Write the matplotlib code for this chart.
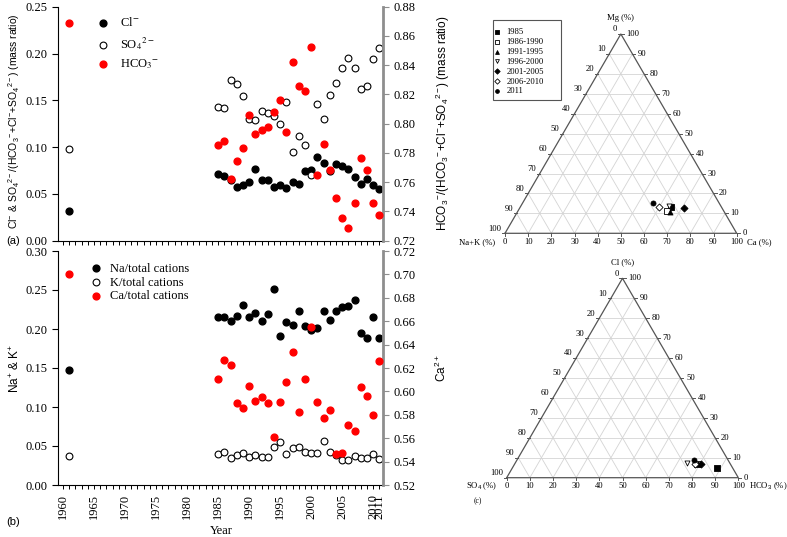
import numpy as np
import matplotlib
matplotlib.use("Agg")
import matplotlib.pyplot as plt
from matplotlib.patches import Rectangle
from matplotlib.font_manager import FontProperties

plt.rcParams['font.family'] = ['Liberation Serif', 'DejaVu Serif']
plt.rcParams['mathtext.fontset'] = 'custom'
plt.rcParams['mathtext.rm'] = 'Liberation Sans'
plt.rcParams['mathtext.it'] = 'Liberation Sans:italic'
plt.rcParams['mathtext.bf'] = 'Liberation Sans:bold'

# ---- time series data ----
years = [1961, 1985, 1986, 1987, 1988, 1989, 1990, 1991, 1992, 1993, 1994,
         1995, 1996, 1997, 1998, 1999, 2000, 2001, 2002, 2003, 2004, 2005,
         2006, 2007, 2008, 2009, 2010, 2011]

cl = [0.032, 0.0716, 0.0694, 0.0645, 0.0577, 0.0600, 0.0627, 0.0769, 0.0645,
      0.0645, 0.0577, 0.0595, 0.0563, 0.0622, 0.0611, 0.0744, 0.0760, 0.0889,
      0.0833, 0.0744, 0.0820, 0.0800, 0.0762, 0.0684, 0.0608, 0.0659, 0.0598,
      0.0557]
so4 = [0.0983, 0.1425, 0.1420, 0.1720, 0.1670, 0.1550, 0.1305, 0.1290, 0.1385,
       0.1368, 0.1328, 0.1243, 0.1485, 0.0948, 0.1120, 0.1022, 0.0706, 0.1457,
       0.1300, 0.1556, 0.1688, 0.1845, 0.1955, 0.1845, 0.1620, 0.1656, 0.1940,
       0.2062]
hco3 = [0.869, 0.7855, 0.7880, 0.7625, 0.7743, 0.7836, 0.8057, 0.7932, 0.7960,
        0.7975, 0.8082, 0.8159, 0.7945, 0.8425, 0.8259, 0.8227, 0.8525, 0.7652,
        0.7864, 0.7686, 0.7491, 0.7355, 0.7284, 0.7459, 0.7764, 0.7680, 0.7459,
        0.7373]

na = [0.1474, 0.2158, 0.2154, 0.2103, 0.2162, 0.2303, 0.2154, 0.2209, 0.2103,
      0.2192, 0.2509, 0.1906, 0.2094, 0.2056, 0.2226, 0.2038, 0.1991, 0.2013,
      0.2235, 0.2115, 0.2235, 0.2286, 0.2290, 0.2368, 0.1949, 0.1885, 0.2158,
      0.1885]
k = [0.0368, 0.0393, 0.0427, 0.0346, 0.0380, 0.0410, 0.0359, 0.0380, 0.0359,
     0.0355, 0.0491, 0.0547, 0.0393, 0.0470, 0.0487, 0.0423, 0.0410, 0.0410,
     0.0564, 0.0423, 0.0385, 0.0316, 0.0316, 0.0368, 0.0342, 0.0350, 0.0393,
     0.0338]
ca = [0.7003, 0.6110, 0.6268, 0.6228, 0.5905, 0.5856, 0.6043, 0.5916, 0.5948,
      0.5898, 0.5614, 0.5913, 0.6081, 0.6336, 0.5825, 0.6110, 0.6554, 0.5913,
      0.5776, 0.5838, 0.5467, 0.5477, 0.5710, 0.5658, 0.6034, 0.5960, 0.5800,
      0.6262]

year_ticks = list(range(1960, 2012))
year_labels = ['1960', '1965', '1970', '1975', '1980', '1985', '1990', '1995',
               '2000', '2005', '2010', '2011']

# ---- ternary data (percent) ----
periods = ['1985', '1986-1990', '1991-1995', '1996-2000', '2001-2005',
           '2006-2010', '2011']
cat_ca = [65.0, 64.2, 65.7, 63.7, 71.0, 59.8, 56.2]
cat_mg = [13.35, 11.34, 10.69, 13.85, 12.85, 13.05, 15.05]
an_hco3 = [88.3, 78.6, 79.2, 74.2, 80.4, 77.9, 76.4]
an_cl = [4.71, 6.72, 6.87, 7.52, 6.62, 7.12, 8.88]
markers = ['s', 's', '^', 'v', 'D', 'D', 'o']
filled = [True, False, True, False, True, False, True]

W, Hpx = 787, 537
fig = plt.figure(figsize=(W / 100, Hpx / 100), dpi=100)


def fr(x0, y0, x1, y1):
    # pixel box -> figure fraction rect
    return [x0 / W, 1 - y1 / Hpx, (x1 - x0) / W, (y1 - y0) / Hpx]


GRAY = '#8e8e8e'
TFS = 9
sans_l = FontProperties(family='Liberation Sans', size=7.5)
sans_r = FontProperties(family='Liberation Sans', size=8.5)


def style_pair(ax, ax2):
    ax.spines['top'].set_visible(False)
    ax.spines['right'].set_visible(False)
    for s in ['top', 'left', 'bottom']:
        ax2.spines[s].set_visible(False)
    ax2.spines['right'].set_color(GRAY)
    ax2.spines['right'].set_linewidth(2)
    ax.set_xlim(1959.2, 2011.65)
    ax.set_xticks(year_ticks)
    ax.tick_params(axis='x', direction='out', length=3, width=0.7)
    ax.tick_params(axis='y', direction='out', length=4, width=0.8, labelsize=TFS)
    ax2.tick_params(axis='y', direction='out', length=4, width=0.8,
                    color=GRAY, labelsize=TFS)


# ---------------- panel (a) ----------------
ax = fig.add_axes(fr(58, 6.7, 383.5, 240.7))
ax2 = ax.twinx()
style_pair(ax, ax2)
ax.set_xticklabels([])
h1 = ax.scatter(years, cl, s=24, c='black', zorder=3)
h2 = ax.scatter(years, so4, s=24, facecolors='white', edgecolors='black',
                linewidths=0.8, zorder=3)
h3 = ax2.scatter(years, hco3, s=24, c='red', zorder=3)
ax.set_ylim(0, 0.25)
ax.set_yticks(np.arange(0, 0.251, 0.05))
ax.yaxis.set_major_formatter('{x:.2f}')
ax2.set_ylim(0.72, 0.88)
ax2.set_yticks(np.arange(0.72, 0.881, 0.02))
ax2.yaxis.set_major_formatter('{x:.2f}')
ax.set_ylabel(r'Cl$^{-}$ & SO$_4$$^{2-}$/(HCO$_3$$^{-}$+Cl$^{-}$+SO$_4$$^{2-}$) (mass ratio)',
              fontproperties=sans_l)
ax.yaxis.set_label_coords(-0.112, 0.51)
ax2.set_ylabel(r'HCO$_3$$^{-}$/(HCO$_3$$^{-}$+Cl$^{-}$+SO$_4$$^{2-}$) (mass ratio)',
               fontproperties=sans_r, rotation=90)
ax2.yaxis.set_label_coords(1.153, 0.5)
leg_prop = FontProperties(family='Liberation Serif', size=9, math_fontfamily='stix')
ax2.legend([h1, h2, h3], [r'Cl$^{-}$', r'SO$_4$$^{2-}$', r'HCO$_3$$^{-}$'],
           loc='upper left', bbox_to_anchor=(0.119, 0.96), frameon=False,
           borderpad=0, borderaxespad=0, handlelength=1.0, handletextpad=0.85,
           labelspacing=0.45, prop=leg_prop)

# ---------------- panel (b) ----------------
bx = fig.add_axes(fr(58, 251, 383.5, 485))
bx2 = bx.twinx()
style_pair(bx, bx2)
bx.set_xticklabels([str(y) if str(y) in year_labels else '' for y in year_ticks],
                   rotation=90, fontsize=TFS)
g1 = bx.scatter(years, na, s=24, c='black', zorder=3)
g2 = bx.scatter(years, k, s=24, facecolors='white', edgecolors='black',
                linewidths=0.8, zorder=3)
g3 = bx2.scatter(years, ca, s=24, c='red', zorder=3)
bx.set_ylim(0, 0.30)
bx.set_yticks(np.arange(0, 0.301, 0.05))
bx.yaxis.set_major_formatter('{x:.2f}')
bx2.set_ylim(0.52, 0.72)
bx2.set_yticks(np.arange(0.52, 0.721, 0.02))
bx2.yaxis.set_major_formatter('{x:.2f}')
bx.set_ylabel(r'Na$^{+}$ & K$^{+}$', fontproperties=sans_r)
bx.yaxis.set_label_coords(-0.112, 0.5)
bx2.set_ylabel(r'Ca$^{2+}$', fontproperties=sans_r, rotation=90)
bx2.yaxis.set_label_coords(1.153, 0.5)
bx.set_xlabel('Year', fontsize=TFS)
bx.xaxis.set_label_coords(0.5015, -0.17)
bx2.legend([g1, g2, g3], ['Na/total cations', 'K/total cations', 'Ca/total cations'],
           loc='upper left', bbox_to_anchor=(0.097, 0.95), frameon=False,
           borderpad=0, borderaxespad=0, handlelength=1.0, handletextpad=0.65,
           labelspacing=0.15, fontsize=TFS)

fig.text(13 / W, 1 - 241 / Hpx, '(a)', ha='center', va='center',
         family='Liberation Sans', fontsize=8)
fig.text(13 / W, 1 - 521.7 / Hpx, '(b)', ha='center', va='center',
         family='Liberation Sans', fontsize=8)

# ---------------- ternary plots ----------------
H = np.sqrt(3) / 2
GRID = '#d4d4d4'
EDGE = '#555555'
TERN_FS = 6.2


def ternary_frame(ax, left_name, right_name, top_name):
    ax.set_xlim(0, 100)
    ax.set_ylim(0, 100 * H)
    ax.axis('off')
    for v in range(10, 100, 10):
        ax.plot([v / 2, 100 - v / 2], [v * H, v * H], color=GRID, lw=0.6, zorder=1)
        ax.plot([v, v + (100 - v) / 2], [0, (100 - v) * H], color=GRID, lw=0.6, zorder=1)
        ax.plot([100 - v, (100 - v) / 2], [0, (100 - v) * H], color=GRID, lw=0.6, zorder=1)
    ax.plot([0, 100, 50, 0], [0, 0, 100 * H, 0], color=EDGE, lw=0.9, zorder=2,
            clip_on=False)
    for v in range(0, 101, 10):
        ax.plot([v, v], [0, -1.2], color=EDGE, lw=0.7, clip_on=False)
        ax.text(v, -3.8, str(v), ha='center', va='center', fontsize=TERN_FS)
        x, y = 100 - v / 2, v * H
        ax.plot([x, x + 1.3], [y, y], color=EDGE, lw=0.7, clip_on=False)
        ax.text(x + 2.4, y, str(v), ha='left', va='center', fontsize=TERN_FS)
        x, y = (100 - v) / 2, (100 - v) * H
        ax.plot([x - 1.3, x], [y, y], color=EDGE, lw=0.7, clip_on=False)
        ax.text(x - 1.6, y + 2.0, str(v), ha='right', va='center', fontsize=TERN_FS)
    ax.text(50, 100 * H + 6.8, top_name, ha='center', va='center', fontsize=TERN_FS)
    ax.text(-4.2, -3.8, left_name, ha='right', va='center', fontsize=TERN_FS)
    ax.text(104.5, -3.8, right_name, ha='left', va='center', fontsize=TERN_FS)


tc = fig.add_axes(fr(505, 34, 736.7, 233.3))
ternary_frame(tc, 'Na+K (%)', 'Ca (%)', 'Mg (%)')
handles = []
for i in range(len(periods)):
    xs = cat_ca[i] + cat_mg[i] / 2
    ys = cat_mg[i] * H
    hnd = tc.scatter([xs], [ys], marker=markers[i], s=13,
                     facecolors='black' if filled[i] else 'white',
                     edgecolors='black', linewidths=0.6, zorder=4)
    handles.append(hnd)

ta = fig.add_axes(fr(506.7, 278.3, 738.3, 477.7))
ternary_frame(ta, r'SO$_4$ (%)', r'HCO$_3$ (%)', 'Cl (%)')
for i in range(len(periods)):
    xs = an_hco3[i] + an_cl[i] / 2
    ys = an_cl[i] * H
    ta.scatter([xs], [ys], marker=markers[i], s=13,
               facecolors='black' if filled[i] else 'white',
               edgecolors='black', linewidths=0.6, zorder=4)

fig.patches.append(Rectangle((492.7 / W, 1 - 100 / Hpx), 68 / W, 80 / Hpx,
                             transform=fig.transFigure, fill=False,
                             edgecolor=EDGE, linewidth=0.8))
fig.legend(handles, periods, loc='upper left',
           bbox_to_anchor=(494.5 / W, 1 - 27.9 / Hpx), frameon=False,
           borderpad=0, borderaxespad=0, handlelength=0.5, handletextpad=0.9,
           labelspacing=0.22, fontsize=TERN_FS, markerscale=0.75)
fig.text(473.3 / W, 1 - 500.7 / Hpx, '(c)', ha='left', va='center', fontsize=5.5)

fig.savefig('out.png', dpi=100)
